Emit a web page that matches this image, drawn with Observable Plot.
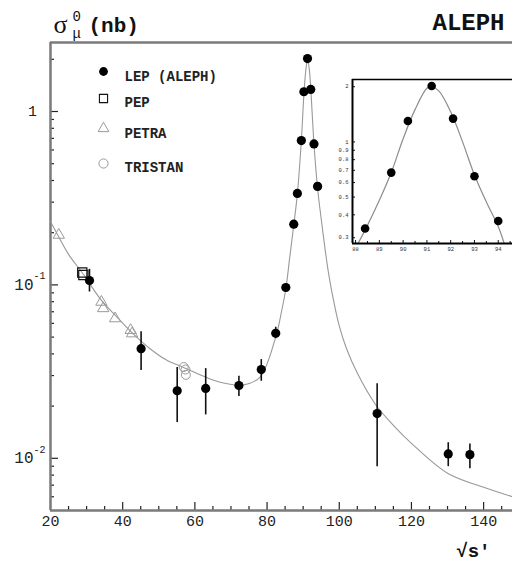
<!DOCTYPE html>
<html><head><meta charset="utf-8">
<script src="https://cdn.jsdelivr.net/npm/d3@7"></script>
<script src="https://cdn.jsdelivr.net/npm/@observablehq/plot@0.6"></script>
<style>
body{margin:0;background:#fff;}
#wrap{position:relative;width:512px;height:564px;overflow:hidden;background:#fff;}
#wrap svg{position:absolute;}
</style></head><body>
<div id="wrap"></div>
<script>
// ---------- data ----------
const xDomain = [20, 148];
const yDomain = [0.005, 2.5];
const xMajor = [20, 40, 60, 80, 100, 120, 140];
const xMinor = [25, 30, 35, 45, 50, 55, 65, 70, 75, 85, 90, 95, 105, 110, 115, 125, 130, 135, 145];
const yMajor = [0.01, 0.1, 1];
const yBase = ["10", "10", "1"];
const yExp = ["-2", "-1", ""];
const yMinor = [0.006, 0.007, 0.008, 0.009, 0.02, 0.03, 0.04, 0.05, 0.06, 0.07, 0.08, 0.09,
                0.2, 0.3, 0.4, 0.5, 0.6, 0.7, 0.8, 0.9, 2];

// LEP (ALEPH)
const lepX  = [30.8, 45.1, 55.1, 63.0, 72.2, 78.4, 82.4, 85.2, 87.4, 88.4, 89.5, 90.2, 91.2, 92.1, 93.0, 94.0, 110.5, 130.2, 136.2];
const lepY  = [0.106, 0.0429, 0.0245, 0.0253, 0.0263, 0.0325, 0.0526, 0.0966, 0.224, 0.337, 0.68, 1.3, 2.02, 1.34, 0.65, 0.37, 0.0181, 0.0106, 0.0105];
const lepLo = [0.091, 0.0321, 0.0161, 0.0178, 0.0227, 0.0278, 0.049, 0.092, null, null, null, null, null, null, null, null, 0.00895, 0.00895, 0.0087];
const lepHi = [0.123, 0.0537, 0.0334, 0.0329, 0.0297, 0.0371, 0.057, 0.101, null, null, null, null, null, null, null, null, 0.0269, 0.0123, 0.0121];
// PEP
const pepX = [28.8, 29.1];
const pepY = [0.118, 0.114];
// PETRA
const petraX = [22.3, 34.1, 34.6, 37.9, 42.2, 42.6];
const petraY = [0.194, 0.0797, 0.0732, 0.064, 0.0548, 0.0524];
// TRISTAN
const tristanX = [56.9, 57.4, 57.5];
const tristanY = [0.0336, 0.0325, 0.0303];
// theory curve
const curveX = [20, 22, 25, 29, 34, 38.5, 43, 47.5, 52, 57, 64, 69, 73.5, 78, 82.4, 84, 85.2, 86.3, 87.4, 88.4, 89.5, 90.2, 90.7, 91.2, 91.7, 92.1, 93.0, 94.0, 95, 96, 97, 98, 100, 102, 105, 110, 115, 120, 130, 140, 148];
const curveY = [0.232, 0.194, 0.150, 0.116, 0.082, 0.065, 0.052, 0.043, 0.037, 0.0333, 0.0288, 0.0269, 0.0265, 0.0293, 0.050, 0.070, 0.095, 0.145, 0.222, 0.335, 0.68, 1.25, 1.7, 2.0, 1.75, 1.36, 0.65, 0.36, 0.24, 0.165, 0.118, 0.09, 0.058, 0.043, 0.031, 0.0205, 0.0155, 0.0122, 0.0082, 0.0068, 0.006];

const legendLabels = ["LEP (ALEPH)", "PEP", "PETRA", "TRISTAN"];

// inset
const insetXDomain = [87.87, 94.6];
const insetYDomain = [0.279, 2.19];
const insetXTicks = [88, 89, 90, 91, 92, 93, 94];
const insetXLabels = ["88", "89", "90", "91", "92", "93", "94"];
const insetXMinor = [88.5, 89.5, 90.5, 91.5, 92.5, 93.5, 94.5];
const insetYTicks = [0.3, 0.4, 0.5, 0.6, 0.7, 0.8, 0.9, 1, 2];
const insetYLabels = ["0.3", "0.4", "0.5", "0.6", "0.7", "0.8", "0.9", "1", "2"];
const insetCurveX = [88.1, 88.4, 89.0, 89.5, 90.0, 90.5, 91.0, 91.2, 91.5, 92.0, 92.5, 93.0, 93.5, 94.0, 94.25];
const insetCurveY = [0.279, 0.33, 0.48, 0.68, 1.04, 1.5, 1.96, 2.0, 1.9, 1.46, 1.0, 0.66, 0.47, 0.345, 0.279];

// ---------- build ----------
const W = 512, H = 564, mL = 50, mR = 0, mT = 42, mB = 54;
const plotW = W - mL - mR, plotH = H - mT - mB;
const mono = "'Liberation Mono', 'Courier New', monospace";

const lep = lepX.map((x, i) => ({x, y: lepY[i], lo: lepLo[i], hi: lepHi[i]}));
const pep = pepX.map((x, i) => ({x, y: pepY[i]}));
const petra = petraX.map((x, i) => ({x, y: petraY[i]}));
const tristan = tristanX.map((x, i) => ({x, y: tristanY[i]}));
const curve = curveX.map((x, i) => ({x, y: curveY[i]}));
const yLab = yMajor.map((v, i) => ({v, base: yBase[i], exp: yExp[i]}));
const axisGray = "#7a7a7a", symGray = "#9a9a9a";

const main = Plot.plot({
  width: W, height: H, marginLeft: mL, marginRight: mR, marginTop: mT, marginBottom: mB,
  style: {fontFamily: mono, background: "white", overflow: "visible"},
  x: {domain: xDomain, label: null},
  y: {type: "log", domain: yDomain, label: null, axis: null},
  marks: [
    Plot.axisX({ticks: xMajor, tickSize: 0, tickPadding: 5, fontSize: 15, fill: "#222", label: null, tickFormat: d => String(d)}),
    // ticks pointing inwards
    Plot.tickY(yMajor, {y: d => d, insetRight: plotW - 8, stroke: "#222", strokeWidth: 1.2}),
    Plot.tickY(yMinor, {y: d => d, insetRight: plotW - 4, stroke: "#222", strokeWidth: 1.2}),
    Plot.tickX(xMajor, {x: d => d, insetTop: plotH - 8, stroke: "#222", strokeWidth: 1.2}),
    Plot.tickX(xMinor, {x: d => d, insetTop: plotH - 4, stroke: "#222", strokeWidth: 1.2}),
    // frame lines
    Plot.ruleX([xDomain[0]], {stroke: axisGray, strokeWidth: 2.5}),
    Plot.ruleY([yDomain[0]], {stroke: axisGray, strokeWidth: 2.5}),
    Plot.ruleY([yDomain[1]], {stroke: axisGray, strokeWidth: 2.5}),
    // y labels
    Plot.text(yLab.filter(d => d.exp === ""), {x: () => xDomain[0], y: "v", text: "base", textAnchor: "middle", dx: -18, fontSize: 15, fill: "#222"}),
    Plot.text(yLab.filter(d => d.exp !== ""), {x: () => xDomain[0], y: "v", text: "base", textAnchor: "end", dx: -17, fontSize: 16, fill: "#222"}),
    Plot.text(yLab.filter(d => d.exp !== ""), {x: () => xDomain[0], y: "v", text: "exp", textAnchor: "start", dx: -17, dy: -9, fontSize: 10, fill: "#222"}),
    // curve
    Plot.line(curve, {x: "x", y: "y", curve: "catmull-rom", stroke: "#999", strokeWidth: 1.1, clip: true}),
    // data
    Plot.ruleX(lep.filter(d => d.lo != null), {x: "x", y1: "lo", y2: "hi", stroke: "#111", strokeWidth: 1.6}),
    Plot.dot(petra, {x: "x", y: "y", symbol: "triangle", r: 4.2, stroke: symGray, fill: "none", strokeWidth: 1}),
    Plot.dot(tristan, {x: "x", y: "y", symbol: "circle", r: 4.5, stroke: symGray, fill: "none", strokeWidth: 1}),
    Plot.dot(pep, {x: "x", y: "y", symbol: "square", r: 5.2, stroke: "#111", fill: "none", strokeWidth: 1.2}),
    Plot.dot(lep, {x: "x", y: "y", r: 4.6, fill: "#000"}),
    // legend
    Plot.dot([legendLabels[0]], {frameAnchor: "top-left", dx: 53, dy: 29, r: 4.4, fill: "#000"}),
    Plot.dot([legendLabels[1]], {frameAnchor: "top-left", dx: 53, dy: 56, symbol: "square", r: 4.6, stroke: "#111", fill: "none", strokeWidth: 1.1}),
    Plot.dot([legendLabels[2]], {frameAnchor: "top-left", dx: 53, dy: 86, symbol: "triangle", r: 4, stroke: symGray, fill: "none", strokeWidth: 1}),
    Plot.dot([legendLabels[3]], {frameAnchor: "top-left", dx: 53, dy: 121, symbol: "circle", r: 4.6, stroke: symGray, fill: "none", strokeWidth: 1}),
    Plot.text([legendLabels[0]], {frameAnchor: "top-left", dx: 74, dy: 29, text: d => d, textAnchor: "start", fontSize: 14, fontWeight: "bold", fill: "#222"}),
    Plot.text([legendLabels[1]], {frameAnchor: "top-left", dx: 74, dy: 55, text: d => d, textAnchor: "start", fontSize: 14, fontWeight: "bold", fill: "#222"}),
    Plot.text([legendLabels[2]], {frameAnchor: "top-left", dx: 74, dy: 86, text: d => d, textAnchor: "start", fontSize: 14, fontWeight: "bold", fill: "#222"}),
    Plot.text([legendLabels[3]], {frameAnchor: "top-left", dx: 74, dy: 120, text: d => d, textAnchor: "start", fontSize: 14, fontWeight: "bold", fill: "#222"}),
    // title pieces
    Plot.text(["σ"], {frameAnchor: "top-left", dx: 3, dy: -10, lineAnchor: "bottom", textAnchor: "start", fontSize: 26, fontFamily: "'Liberation Serif', serif", fill: "#111", text: d => d}),
    Plot.text(["0"], {frameAnchor: "top-left", dx: 22, dy: -22, lineAnchor: "bottom", textAnchor: "start", fontSize: 14, fill: "#111", text: d => d}),
    Plot.text(["μ"], {frameAnchor: "top-left", dx: 22, dy: -5, lineAnchor: "bottom", textAnchor: "start", fontSize: 14, fill: "#111", text: d => d}),
    Plot.text(["(nb)"], {frameAnchor: "top-left", dx: 38, dy: -11, lineAnchor: "bottom", textAnchor: "start", fontSize: 21, fontWeight: "bold", fill: "#111", text: d => d}),
    Plot.text(["ALEPH"], {frameAnchor: "top-right", dx: -8, dy: -13, lineAnchor: "bottom", textAnchor: "end", fontSize: 24, fontWeight: "bold", fill: "#111", text: d => d}),
    Plot.text(["√s′"], {frameAnchor: "bottom-right", dx: -22, dy: 46, lineAnchor: "bottom", textAnchor: "end", fontSize: 19, fontWeight: "bold", fill: "#111", text: d => d})
  ]
});
main.style.left = "0px"; main.style.top = "0px";
document.getElementById("wrap").appendChild(main);

// inset
const iL = 14, iT = 4, iB = 12, iPW = 160, iPH = 164;
const insetPts = lep.filter(d => d.x >= insetXDomain[0] && d.x <= insetXDomain[1]);
const insetCurve = insetCurveX.map((x, i) => ({x, y: insetCurveY[i]}));
const inset = Plot.plot({
  width: iL + iPW, height: iT + iPH + iB, marginLeft: iL, marginRight: 0, marginTop: iT, marginBottom: iB,
  style: {fontFamily: mono, background: "white", overflow: "visible"},
  x: {domain: insetXDomain, axis: null},
  y: {type: "log", domain: insetYDomain, axis: null},
  marks: [
    Plot.tickY(insetYTicks, {y: d => d, insetRight: iPW - 3, stroke: "#111"}),
    Plot.tickX(insetXTicks, {x: d => d, insetTop: iPH - 3, stroke: "#111"}),
    Plot.tickX(insetXMinor, {x: d => d, insetTop: iPH - 2, stroke: "#111"}),
    Plot.text(insetYTicks, {x: () => insetXDomain[0], y: d => d, text: (d, i) => insetYLabels[i], textAnchor: "end", dx: -4, fontSize: 5.5, fill: "#333"}),
    Plot.text(insetXTicks, {x: d => d, y: () => insetYDomain[0], text: (d, i) => insetXLabels[i], dy: 6, fontSize: 5.5, fill: "#333"}),
    Plot.line(insetCurve, {x: "x", y: "y", curve: "catmull-rom", stroke: "#8c8c8c", strokeWidth: 1.2, clip: true}),
    Plot.dot(insetPts, {x: "x", y: "y", r: 4.3, fill: "#000"}),
    Plot.ruleX([insetXDomain[0]], {stroke: "#000", strokeWidth: 2}),
    Plot.ruleY([insetYDomain[0]], {stroke: "#000", strokeWidth: 2}),
    Plot.ruleY([insetYDomain[1]], {stroke: "#000", strokeWidth: 1.3})
  ]
});
inset.style.left = (352 - iL) + "px"; inset.style.top = (79 - iT) + "px";
document.getElementById("wrap").appendChild(inset);
</script>
</body></html>
